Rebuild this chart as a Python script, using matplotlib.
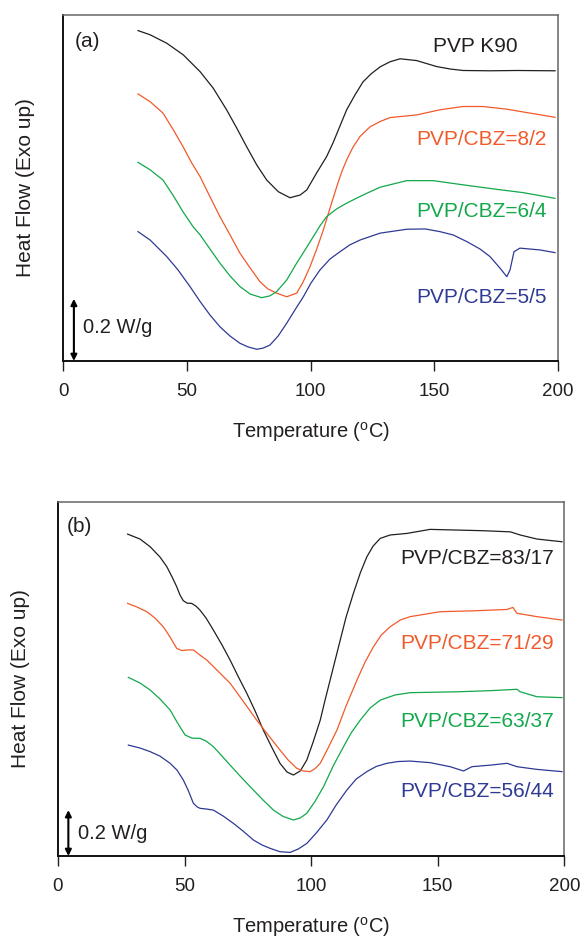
import matplotlib
matplotlib.use("Agg")
import matplotlib.pyplot as plt

plt.rcParams['font.family'] = ['Liberation Sans', 'DejaVu Sans']
plt.rcParams['mathtext.fontset'] = 'custom'
plt.rcParams['mathtext.rm'] = 'Liberation Sans'

# ---------------- Panel (a) data: temperature (degC) vs heat flow (W/g, offset) ----------------
a_k90_T = [30.3, 35.2, 41.9, 48.6, 55.4, 60.7, 66.1, 70.2, 74.2, 78.3, 82.3, 87.0, 91.7, 95.8,
           98.5, 102.5, 106.5, 109.1, 114.6, 118.0, 121.2, 124.5, 128.1, 132.1, 136.2, 142.9,
           151.0, 156.4, 161.6, 172.5, 183.3, 198.8]
a_k90_H = [1.101, 1.087, 1.059, 1.020, 0.964, 0.909, 0.837, 0.776, 0.714, 0.653, 0.603, 0.564,
           0.544, 0.553, 0.570, 0.627, 0.681, 0.727, 0.837, 0.887, 0.930, 0.957, 0.980, 0.997,
           1.007, 1.001, 0.981, 0.973, 0.968, 0.967, 0.968, 0.967]

a_82_T = [30.3, 35.2, 40.4, 44.6, 48.5, 52.0, 55.4, 59.4, 63.4, 67.5, 71.5, 75.6, 79.6, 82.8,
          86.3, 90.4, 94.4, 97.0, 99.8, 102.5, 105.2, 107.9, 110.6, 112.6, 114.6, 117.2, 120.0,
          124.0, 128.1, 132.1, 142.9, 152.3, 161.6, 169.7, 179.3, 188.7, 198.8]
a_82_H = [0.890, 0.864, 0.826, 0.770, 0.714, 0.660, 0.614, 0.547, 0.481, 0.420, 0.359, 0.310,
          0.264, 0.240, 0.226, 0.214, 0.226, 0.263, 0.314, 0.373, 0.437, 0.510, 0.581, 0.630,
          0.670, 0.713, 0.748, 0.780, 0.798, 0.811, 0.820, 0.837, 0.848, 0.848, 0.839, 0.826,
          0.812]

a_64_T = [30.3, 35.2, 40.4, 44.4, 48.5, 52.5, 55.4, 59.4, 63.4, 67.5, 71.5, 75.6, 80.3, 83.6,
          86.3, 90.4, 94.4, 97.8, 101.1, 103.8, 106.5, 110.6, 114.6, 121.2, 128.1, 138.9, 149.5,
          161.6, 175.2, 185.9, 198.8]
a_64_H = [0.662, 0.637, 0.603, 0.553, 0.497, 0.448, 0.420, 0.373, 0.326, 0.283, 0.248, 0.223,
          0.211, 0.217, 0.231, 0.270, 0.326, 0.370, 0.414, 0.450, 0.481, 0.507, 0.526, 0.553,
          0.579, 0.601, 0.601, 0.587, 0.572, 0.561, 0.542]

a_55_T = [30.3, 35.2, 41.9, 46.5, 51.3, 55.4, 59.4, 63.4, 67.5, 71.5, 74.7, 78.3, 80.9, 83.6,
          86.9, 90.4, 93.7, 97.1, 100.2, 103.8, 107.9, 111.9, 115.9, 120.0, 128.1, 138.9, 146.3,
          152.3, 157.6, 163.1, 168.5, 172.5, 176.6, 179.3, 180.6, 182.2, 184.6, 192.7, 198.8]
a_55_H = [0.431, 0.403, 0.348, 0.303, 0.248, 0.198, 0.153, 0.114, 0.083, 0.059, 0.047, 0.039,
          0.043, 0.053, 0.083, 0.126, 0.170, 0.214, 0.260, 0.303, 0.340, 0.364, 0.387, 0.403,
          0.426, 0.439, 0.440, 0.431, 0.420, 0.398, 0.373, 0.348, 0.309, 0.281, 0.303, 0.364,
          0.376, 0.370, 0.361]

# ---------------- Panel (b) data ----------------
b_8317_T = [27.5, 32.4, 36.4, 40.3, 43.0, 45.1, 46.9, 48.2, 49.5, 51.0, 52.8, 54.5, 56.1, 58.5,
            61.4, 64.8, 68.0, 71.1, 74.6, 77.9, 81.1, 84.6, 87.7, 90.5, 93.0, 95.7, 98.3, 100.8,
            103.6, 105.5, 107.5, 109.5, 111.5, 113.8, 116.7, 119.4, 122.0, 124.5, 127.3, 131.2,
            137.8, 147.0, 157.6, 168.1, 178.7, 182.6, 189.2, 199.1]
b_8317_H = [1.431, 1.409, 1.375, 1.329, 1.286, 1.240, 1.197, 1.160, 1.135, 1.124, 1.123, 1.111,
            1.093, 1.058, 1.004, 0.938, 0.871, 0.800, 0.723, 0.644, 0.560, 0.480, 0.412, 0.373,
            0.360, 0.378, 0.427, 0.507, 0.604, 0.693, 0.782, 0.871, 0.960, 1.062, 1.168, 1.258,
            1.330, 1.378, 1.412, 1.427, 1.434, 1.452, 1.449, 1.446, 1.441, 1.427, 1.409, 1.397]

b_7129_T = [27.5, 31.2, 35.1, 38.3, 41.6, 44.3, 46.9, 49.0, 51.0, 53.5, 56.1, 58.8, 63.2, 68.0,
            73.1, 78.5, 83.0, 87.7, 90.9, 94.3, 96.8, 99.6, 101.6, 103.6, 106.7, 110.2, 113.8,
            118.1, 121.3, 124.6, 127.7, 131.2, 135.2, 139.1, 151.0, 164.2, 177.4, 179.7, 181.3,
            189.2, 199.1]
b_7129_H = [1.123, 1.107, 1.086, 1.058, 1.019, 0.973, 0.923, 0.913, 0.916, 0.916, 0.893, 0.871,
            0.822, 0.768, 0.689, 0.604, 0.538, 0.471, 0.427, 0.390, 0.378, 0.375, 0.389, 0.412,
            0.480, 0.560, 0.667, 0.782, 0.862, 0.930, 0.982, 1.019, 1.049, 1.064, 1.086, 1.090,
            1.096, 1.105, 1.079, 1.064, 1.049]

b_6337_T = [27.8, 32.4, 36.4, 40.3, 44.3, 47.0, 50.2, 52.9, 56.1, 58.5, 61.4, 64.8, 68.0, 72.3,
            77.2, 81.0, 85.1, 88.9, 93.0, 95.7, 98.3, 101.6, 104.9, 108.7, 112.8, 115.8, 119.4,
            123.3, 127.3, 133.2, 139.1, 157.6, 170.8, 181.3, 182.6, 189.2, 199.1]
b_6337_H = [0.794, 0.769, 0.738, 0.698, 0.649, 0.596, 0.538, 0.524, 0.523, 0.511, 0.486, 0.444,
            0.404, 0.351, 0.293, 0.249, 0.204, 0.176, 0.160, 0.169, 0.190, 0.244, 0.308, 0.400,
            0.486, 0.547, 0.604, 0.658, 0.693, 0.716, 0.726, 0.730, 0.735, 0.741, 0.730, 0.708,
            0.704]

b_5644_T = [27.8, 32.4, 36.4, 40.3, 44.3, 47.0, 49.5, 51.4, 53.5, 55.0, 56.1, 58.5, 61.4, 65.2,
            69.3, 73.1, 77.2, 80.6, 83.8, 87.7, 91.7, 94.9, 98.3, 102.0, 106.2, 109.9, 114.1,
            117.8, 122.0, 125.7, 129.9, 134.4, 139.1, 147.0, 154.9, 160.2, 163.5, 170.8, 177.4,
            181.3, 189.2, 199.1]
b_5644_H = [0.493, 0.480, 0.464, 0.444, 0.412, 0.382, 0.338, 0.293, 0.234, 0.218, 0.212, 0.209,
            0.204, 0.178, 0.145, 0.111, 0.071, 0.049, 0.034, 0.019, 0.016, 0.031, 0.056, 0.102,
            0.160, 0.227, 0.293, 0.342, 0.375, 0.398, 0.412, 0.420, 0.422, 0.415, 0.397, 0.378,
            0.397, 0.404, 0.412, 0.397, 0.385, 0.375]

a_labels = ["PVP K90", "PVP/CBZ=8/2", "PVP/CBZ=6/4", "PVP/CBZ=5/5"]
b_labels = ["PVP/CBZ=83/17", "PVP/CBZ=71/29", "PVP/CBZ=63/37", "PVP/CBZ=56/44"]
xticks = [0, 50, 100, 150, 200]

colors = ["#231F20", "#F15A2B", "#12A84B", "#2E3A94"]

fig = plt.figure(figsize=(5.85, 9.42), dpi=100)
ax_a = fig.add_axes([0.1077, 0.6168, 0.8462, 0.3673])
ax_b = fig.add_axes([0.0991, 0.0913, 0.8655, 0.3761])


def style(ax, ylim):
    ax.set_xlim(0, 200)
    ax.set_ylim(0, ylim)
    ax.set_xticks(xticks)
    ax.set_yticks([])
    ax.tick_params(axis='x', direction='out', length=7, width=1.0, labelsize=13.5,
                   pad=9, top=False, colors='#231F20')
    for s in ['left', 'bottom']:
        ax.spines[s].set_linewidth(1.4)
        ax.spines[s].set_color('#111111')
    for s in ['top', 'right']:
        ax.spines[s].set_linewidth(1.1)
        ax.spines[s].set_color('#666666')
    ax.set_xlabel('Temperature ($^{\\mathregular{o}}$C)', fontsize=14.5, labelpad=14,
                  color='#231F20')
    ax.set_ylabel('Heat Flow (Exo up)', fontsize=15, labelpad=20, color='#231F20')


# Panel (a)
style(ax_a, 1.153)
for T, H, c in zip([a_k90_T, a_82_T, a_64_T, a_55_T], [a_k90_H, a_82_H, a_64_H, a_55_H], colors):
    ax_a.plot(T, H, color=c, lw=0.9)
a_lab_x = [183.8, 195.4, 195.4, 195.4]
a_lab_y = [1.048, 0.737, 0.498, 0.211]
for t, x, y, c in zip(a_labels, a_lab_x, a_lab_y, colors):
    ax_a.text(x, y, t, color=c, fontsize=15, ha='right', va='center')
ax_a.text(4.8, 1.063, '(a)', fontsize=15, ha='left', va='center', color='#231F20')
ax_a.annotate('', xy=(4.4, 0.207), xytext=(4.4, 0.0),
              arrowprops=dict(arrowstyle='<|-|>', color='black', lw=1.5, mutation_scale=9,
                              shrinkA=0, shrinkB=0))
ax_a.text(8.1, 0.11, '0.2 W/g', fontsize=14.5, ha='left', va='center', color='#231F20')

# Panel (b)
style(ax_b, 1.575)
for T, H, c in zip([b_8317_T, b_7129_T, b_6337_T, b_5644_T],
                   [b_8317_H, b_7129_H, b_6337_H, b_5644_H], colors):
    ax_b.plot(T, H, color=c, lw=0.9)
b_lab_x = [196.0] * 4
b_lab_y = [1.324, 0.945, 0.597, 0.286]
for t, x, y, c in zip(b_labels, b_lab_x, b_lab_y, colors):
    ax_b.text(x, y, t, color=c, fontsize=15, ha='right', va='center')
ax_b.text(3.4, 1.464, '(b)', fontsize=15, ha='left', va='center', color='#231F20')
ax_b.annotate('', xy=(4.1, 0.204), xytext=(4.1, 0.0),
              arrowprops=dict(arrowstyle='<|-|>', color='black', lw=1.5, mutation_scale=9,
                              shrinkA=0, shrinkB=0))
ax_b.text(8.0, 0.10, '0.2 W/g', fontsize=14.5, ha='left', va='center', color='#231F20')

fig.savefig('out.png', dpi=100)
